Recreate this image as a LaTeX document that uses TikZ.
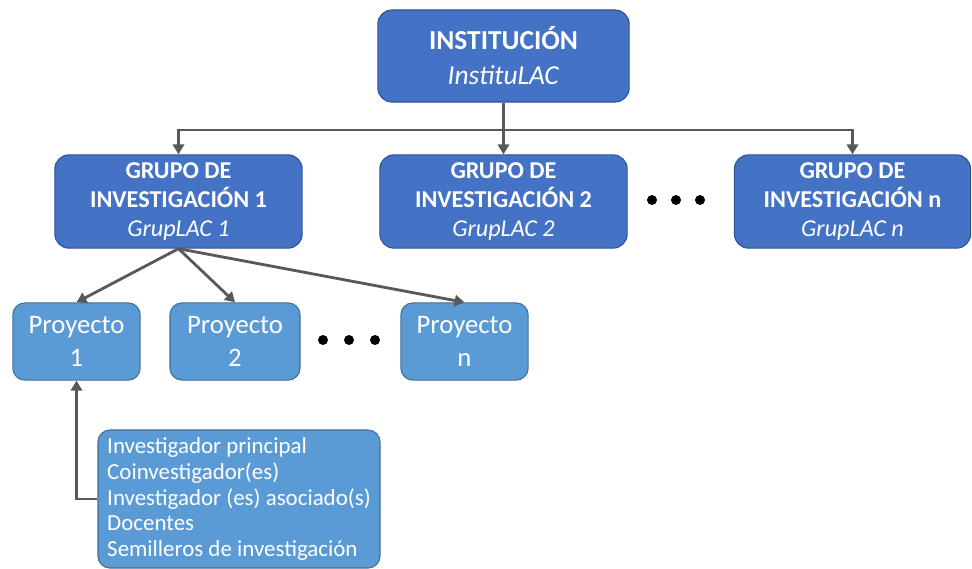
\documentclass[tikz,border=0pt]{standalone}
\usepackage{fontspec}
\setmainfont{Carlito}
\usetikzlibrary{arrows.meta}
\definecolor{grupoblue}{HTML}{4472C4}
\definecolor{grupoedge}{HTML}{2F5597}
\definecolor{proyblue}{HTML}{5B9BD5}
\definecolor{proyedge}{HTML}{41719C}
\definecolor{linegray}{HTML}{595959}
\begin{document}
\begin{tikzpicture}[
        x=0.025cm, y=-0.025cm,
        darkbox/.style={draw=grupoedge, line width=0.8pt, fill=grupoblue, rounded corners=0.35cm,
            text=white, align=center, inner sep=0pt},
        lightbox/.style={draw=proyedge, line width=0.8pt, fill=proyblue, rounded corners=0.3cm,
            text=white, align=center, inner sep=0pt},
        conn/.style={draw=linegray, line width=2pt, -{Triangle[length=7pt,width=8pt]}}
    ]
    \useasboundingbox (0,0) rectangle (972,568);

    \node[darkbox, minimum width=6.28cm, minimum height=2.3cm,
        font=\fontsize{19.5}{25}\selectfont] (inst) at (503.5,56)
        {\textbf{INSTITUCIÓN}\\\textit{InstituLAC}};

    \node[darkbox, minimum width=6.18cm, minimum height=2.33cm,
        font=\fontsize{17.2}{20.5}\selectfont] (g1) at (178.5,201.5)
        {\textbf{GRUPO DE}\\\textbf{INVESTIGACIÓN 1}\\\textit{GrupLAC 1}};
    \node[darkbox, minimum width=6.18cm, minimum height=2.33cm,
        font=\fontsize{17.2}{20.5}\selectfont] (g2) at (503.5,201.5)
        {\textbf{GRUPO DE}\\\textbf{INVESTIGACIÓN 2}\\\textit{GrupLAC 2}};
    \node[darkbox, minimum width=5.9cm, minimum height=2.33cm,
        font=\fontsize{17.2}{20.5}\selectfont] (gn) at (852.5,201.5)
        {\textbf{GRUPO DE}\\\textbf{INVESTIGACIÓN n}\\\textit{GrupLAC n}};

    \node[lightbox, minimum width=3.18cm, minimum height=1.93cm,
        font=\fontsize{19}{23.5}\selectfont] (p1) at (76.5,341.5) {Proyecto\\1};
    \node[lightbox, minimum width=3.25cm, minimum height=1.93cm,
        font=\fontsize{19}{23.5}\selectfont] (p2) at (235,341.5) {Proyecto\\2};
    \node[lightbox, minimum width=3.18cm, minimum height=1.93cm,
        font=\fontsize{19}{23.5}\selectfont] (pn) at (464.5,341.5) {Proyecto\\n};

    \node[lightbox, minimum width=7.05cm, minimum height=3.45cm, align=left,
        font=\fontsize{16.3}{18.2}\selectfont] (info) at (239,499)
        {Investigador principal\\Coinvestigador(es)\\Investigador (es) asociado(s)\\Docentes\\Semilleros de investigación};

    \coordinate (bus) at (503.5,130);
    \draw[conn] (inst.south) -- (g2.north);
    \draw[conn] (bus) -| (g1.north);
    \draw[conn] (bus) -| (gn.north);

    \draw[conn] (g1.south) -- (p1.north);
    \draw[conn] (g1.south) -- (p2.north);
    \draw[conn] (g1.south) -- (pn.north);

    \draw[conn] (info.west) -| (p1.south);

    \fill (652,200) circle (5);
    \fill (676,200) circle (5);
    \fill (700,200) circle (5);
    \fill (323,340) circle (5);
    \fill (349,340) circle (5);
    \fill (375,340) circle (5);
\end{tikzpicture}
\end{document}
